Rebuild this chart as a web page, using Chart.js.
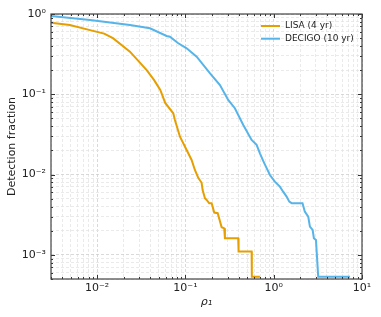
<!DOCTYPE html>
<html>
<head>
<meta charset="utf-8">
<script src="https://cdn.jsdelivr.net/npm/chart.js@4"></script>
<style>
  html, body { margin: 0; padding: 0; background: #fff; }
  #wrap { width: 381px; height: 317px; }
</style>
</head>
<body>
<div id="wrap"><canvas id="myChart" width="381" height="317"></canvas></div>
<script>
// data (x = rho_1, y = detection fraction)
const lisaX = [0.0030, 0.0049, 0.0083, 0.0120, 0.0151, 0.0235, 0.0364, 0.0440, 0.0519, 0.0590, 0.0728, 0.0760, 0.0867, 0.1032, 0.1175, 0.128, 0.1397, 0.1525, 0.1566, 0.1663, 0.1739, 0.186, 0.198, 0.212, 0.232, 0.257, 0.275, 0.280, 0.396, 0.400, 0.562, 0.565, 0.698];
const lisaY = [0.78, 0.73, 0.63, 0.57, 0.50, 0.34, 0.20, 0.151, 0.113, 0.078, 0.058, 0.0478, 0.0296, 0.0202, 0.0152, 0.0114, 0.0091, 0.0079, 0.0064, 0.00507, 0.00483, 0.00439, 0.00439, 0.00336, 0.0033, 0.00221, 0.00214, 0.00161, 0.00161, 0.0011, 0.0011, 0.000535, 0.000535];

const decigoX = [0.0030, 0.0083, 0.0235, 0.0396, 0.0612, 0.0667, 0.0822, 0.1032, 0.134, 0.189, 0.246, 0.305, 0.363, 0.452, 0.562, 0.640, 0.698, 0.760, 0.831, 0.906, 1.03, 1.175, 1.28, 1.40, 1.50, 1.60, 2.12, 2.25, 2.46, 2.57, 2.76, 2.85, 3.01, 3.19, 7.30];
const decigoY = [0.944, 0.842, 0.730, 0.664, 0.532, 0.522, 0.435, 0.374, 0.294, 0.183, 0.130, 0.085, 0.067, 0.0415, 0.027, 0.0234, 0.0184, 0.0148, 0.0120, 0.00988, 0.00816, 0.00707, 0.00612, 0.00531, 0.0046, 0.0044, 0.0044, 0.00345, 0.00299, 0.00225, 0.00204, 0.00161, 0.00153, 0.000535, 0.000535];

const xMajor = [0.01, 0.1, 1, 10];
const xTickLabels = ["10\u207B\u00B2", "10\u207B\u00B9", "10\u2070", "10\u00B9"];
const yMajor = [0.001, 0.01, 0.1, 1];
const yTickLabels = ["10\u207B\u00B3", "10\u207B\u00B2", "10\u207B\u00B9", "10\u2070"];

const FONT = "'DejaVu Sans', sans-serif";

function toPoints(xs, ys) {
  return xs.map((x, i) => ({ x: x, y: ys[i] }));
}

// major + minor ticks for a log axis
function logTicks(min, max) {
  const out = [];
  for (let e = -5; e <= 2; e++) {
    for (let m = 1; m <= 9; m++) {
      const v = m * Math.pow(10, e);
      if (v >= min * 0.9999 && v <= max * 1.0001) out.push({ value: v });
    }
  }
  return out;
}

function isMajor(v) {
  const l = Math.log10(v);
  return Math.abs(l - Math.round(l)) < 1e-6;
}

function labelFor(v, majors, labels) {
  for (let i = 0; i < majors.length; i++) {
    if (Math.abs(v - majors[i]) / majors[i] < 1e-6) return labels[i];
  }
  return "";
}

// frame, inward ticks, legend
const framePlugin = {
  id: "frame",
  afterDraw(chart) {
    const ctx = chart.ctx;
    const a = chart.chartArea;
    const xs = chart.scales.x;
    const ys = chart.scales.y;
    ctx.save();
    ctx.strokeStyle = "#333";
    ctx.lineWidth = 1;
    xs.ticks.forEach((t) => {
      const px = Math.round(xs.getPixelForValue(t.value)) + 0.5;
      const len = isMajor(t.value) ? 4 : 2;
      ctx.beginPath();
      ctx.moveTo(px, a.bottom);
      ctx.lineTo(px, a.bottom - len);
      ctx.moveTo(px, a.top);
      ctx.lineTo(px, a.top + len);
      ctx.stroke();
    });
    ys.ticks.forEach((t) => {
      const py = Math.round(ys.getPixelForValue(t.value)) + 0.5;
      const len = isMajor(t.value) ? 4 : 2;
      ctx.beginPath();
      ctx.moveTo(a.left, py);
      ctx.lineTo(a.left + len, py);
      ctx.moveTo(a.right, py);
      ctx.lineTo(a.right - len, py);
      ctx.stroke();
    });
    ctx.strokeStyle = "#444";
    ctx.lineWidth = 1.2;
    ctx.strokeRect(a.left, a.top, a.right - a.left, a.bottom - a.top);

    // legend
    const lx = a.right - 101;
    let ly = a.top + 12;
    ctx.font = "9px " + FONT;
    ctx.textBaseline = "middle";
    chart.data.datasets.forEach((ds) => {
      ctx.strokeStyle = ds.borderColor;
      ctx.lineWidth = 2;
      ctx.beginPath();
      ctx.moveTo(lx, ly);
      ctx.lineTo(lx + 19, ly);
      ctx.stroke();
      ctx.fillStyle = "#222";
      ctx.fillText(ds.label, lx + 24, ly);
      ly += 12.7;
    });
    ctx.restore();
  },
};

function gridColor(c) {
  if (!c.tick) return "rgba(0,0,0,0)";
  return isMajor(c.tick.value) ? "#cfcfcf" : "#e4e4e4";
}

const ctx = document.getElementById("myChart").getContext("2d");
window.chart = new Chart(ctx, {
  type: "scatter",
  data: {
    datasets: [
      {
        label: "LISA (4 yr)",
        data: toPoints(lisaX, lisaY),
        borderColor: "#E69F00",
        backgroundColor: "#E69F00",
        showLine: true,
        borderWidth: 2,
        pointRadius: 0,
        tension: 0,
      },
      {
        label: "DECIGO (10 yr)",
        data: toPoints(decigoX, decigoY),
        borderColor: "#56B4E9",
        backgroundColor: "#56B4E9",
        showLine: true,
        borderWidth: 2,
        pointRadius: 0,
        tension: 0,
      },
    ],
  },
  options: {
    responsive: false,
    animation: false,
    clip: 2,
    layout: { padding: { top: 14, right: 19, left: 0, bottom: 0 } },
    plugins: {
      legend: { display: false },
      tooltip: { enabled: false },
    },
    scales: {
      x: {
        type: "logarithmic",
        min: 0.003,
        max: 10,
        afterBuildTicks: (s) => { s.ticks = logTicks(s.min, s.max); },
        afterFit: (s) => { s.height = 38; },
        grid: { color: gridColor, lineWidth: 0.8, drawTicks: false },
        border: { display: false, dash: [3, 2] },
        ticks: {
          autoSkip: false,
          maxRotation: 0,
          padding: 3,
          color: "#222",
          font: { family: FONT, size: 11 },
          callback: (v) => labelFor(v, xMajor, xTickLabels),
        },
        title: {
          display: true,
          text: "\u03C1\u2081",
          color: "#222",
          font: { family: FONT, size: 11, style: "italic" },
          padding: { top: 0, bottom: 8 },
        },
      },
      y: {
        type: "logarithmic",
        min: 0.0005,
        max: 1,
        afterBuildTicks: (s) => { s.ticks = logTicks(s.min, s.max); },
        afterFit: (s) => { s.width = 51; },
        grid: { color: gridColor, lineWidth: 0.8, drawTicks: false },
        border: { display: false, dash: [3, 2] },
        ticks: {
          autoSkip: false,
          padding: 5,
          color: "#222",
          font: { family: FONT, size: 11 },
          callback: (v) => labelFor(v, yMajor, yTickLabels),
        },
        title: {
          display: true,
          text: "Detection fraction",
          color: "#222",
          font: { family: FONT, size: 11 },
          padding: { top: 6, bottom: 0 },
        },
      },
    },
  },
  plugins: [framePlugin],
});
</script>
</body>
</html>
